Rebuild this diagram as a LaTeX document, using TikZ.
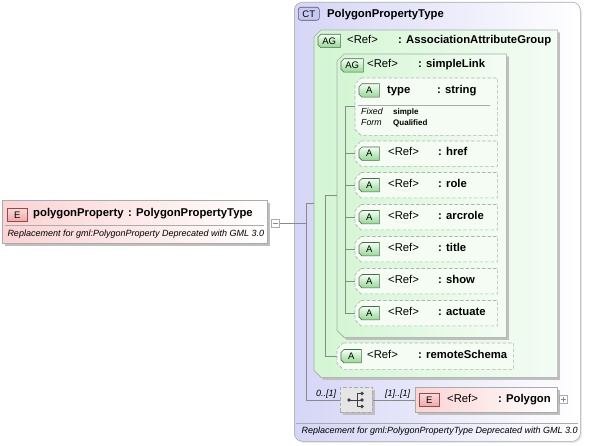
\documentclass[tikz,border=0pt]{standalone}
\usepackage{fontspec}
\setmainfont{Liberation Sans}
\usetikzlibrary{positioning,shadows}
\definecolor{linegray}{HTML}{8A8A8A}
\definecolor{boxgray}{HTML}{ABABAB}
\definecolor{ctblue}{HTML}{D5D5F6}
\definecolor{aggreen}{HTML}{D3F6D3}
\definecolor{agpale}{HTML}{F4FCF4}
\definecolor{elpink}{HTML}{FBD3D3}
\definecolor{badgegreen}{HTML}{94D894}
\definecolor{badgeedge}{HTML}{4E6A4E}
\definecolor{epink}{HTML}{F0A8A8}
\definecolor{eedge}{HTML}{9E4646}
\definecolor{ctbadge}{HTML}{C9C9F0}
\definecolor{ctedge}{HTML}{55557A}
\newcommand{\cutbox}[3]{\path[#1] ([xshift=#3]#2.north west) -- (#2.north east) -- (#2.south east) -- ([xshift=#3]#2.south west) -- ([yshift=#3]#2.south west) -- ([yshift=-#3]#2.north west) -- cycle;}
\newcommand{\greenbadge}[4]{%
	\node[badgebox, anchor=west, minimum width=#4] (#1) at #2 {};
	\cutbox{gbadgefill}{#1}{3pt}
	\node[badgetext] at (#1.center) {#3};}
\tikzset{
	boxline/.style={inner sep=0pt, anchor=north west},
	boxshadow/.style={drop shadow={shadow xshift=2.5pt, shadow yshift=-2.5pt, fill=black!25, opacity=1}},
	elbox/.style={boxline, draw=boxgray, line width=0.6pt, boxshadow, left color=elpink, right color=white},
	agfill/.style={draw=boxgray, line width=0.6pt, boxshadow, left color=aggreen, right color=agpale},
	attfill/.style={draw=boxgray!90, line width=0.6pt, dash pattern=on 3.5pt off 2pt, fill=agpale},
	badgebox/.style={inner sep=0pt, minimum height=13pt},
	badgetext/.style={inner sep=0pt, font=\fontsize{9.5}{9.5}\selectfont},
	gbadgefill/.style={draw=badgeedge, line width=0.6pt, top color=green!5!white, bottom color=badgegreen},
	ebadge/.style={badgebox, badgetext, draw=eedge, line width=0.6pt, top color=epink!40!white, bottom color=epink, minimum width=20pt},
	cbadge/.style={badgebox, badgetext, draw=ctedge, line width=0.6pt, rounded corners=2.5pt, fill=ctbadge, minimum width=21pt},
	reftxt/.style={anchor=base west, inner sep=0pt, font=\fontsize{11.3}{12}\selectfont},
	nametxt/.style={anchor=base west, inner sep=0pt, font=\fontsize{11.3}{12}\selectfont\bfseries},
	notetxt/.style={anchor=base west, inner sep=0pt, font=\fontsize{9}{10}\selectfont\itshape},
	link/.style={draw=linegray, line width=0.6pt},
}
\begin{document}
\begin{tikzpicture}[x=1pt, y=-1pt]
	\useasboundingbox (0,0) rectangle (589,446);

	\node[elbox, minimum width=265pt, minimum height=43pt] (polyprop) at (2,200) {};
	\draw[boxgray, line width=0.6pt] (5,225) -- (264,225);
	\node[ebadge, anchor=north west] (polypropE) at (7,208) {E};
	\node[nametxt] (polypropname) at (33,217) {polygonProperty};
	\node[nametxt] (polyproptype) at (128,217) {: PolygonPropertyType};
	\node[notetxt] (polypropnote) at (7.3,236.5) {Replacement for gml:PolygonProperty Deprecated with GML 3.0};
	\node[boxline, draw=boxgray, line width=0.6pt, fill=white, minimum size=8pt] (minus) at (271,219) {};
	\draw[linegray] ([xshift=-2.5pt]minus.center) -- ([xshift=2.5pt]minus.center);

	\node[boxline, draw=boxgray, line width=0.6pt, drop shadow={shadow xshift=1.5pt, shadow yshift=-1.5pt, fill=black!18}, rounded corners=8pt, left color=ctblue, right color=white, minimum width=286pt, minimum height=439pt] (ctbox) at (294,2) {};
	\node[cbadge, anchor=north west] (ctbadge) at (298,7) {CT};
	\node[nametxt] (ctname) at (327,18) {PolygonPropertyType};

	\node[boxline, minimum width=243pt, minimum height=347pt] (agassoc) at (314,30) {};
	\cutbox{agfill}{agassoc}{7pt}
	\greenbadge{agassocA}{(318,41)}{AG}{22pt}
	\node[reftxt] at (347,43.5) {<Ref>};
	\node[nametxt] at (398,43.5) {: AssociationAttributeGroup};

	\node[boxline, minimum width=169pt, minimum height=283pt] (agsimple) at (337,54) {};
	\cutbox{agfill}{agsimple}{7pt}
	\greenbadge{agsimpleA}{(341,65.5)}{AG}{22pt}
	\node[reftxt] at (367,67.5) {<Ref>};
	\node[nametxt] at (418,67.5) {: simpleLink};

	\node[boxline, minimum width=142pt, minimum height=57pt] (atttype) at (355,78) {};
	\cutbox{attfill}{atttype}{6pt}
	\greenbadge{atttypeA}{(359,90.5)}{A}{20pt}
	\node[nametxt] at (387,94) {type};
	\node[nametxt] at (437,94) {: string};
	\draw[boxgray, line width=0.6pt] (358,105) -- (490,105);
	\node[notetxt, font=\fontsize{8.8}{9}\selectfont\itshape] at (361,115) {Fixed};
	\node[nametxt, font=\fontsize{8}{9}\selectfont\bfseries] at (393,115) {simple};
	\node[notetxt, font=\fontsize{8.8}{9}\selectfont\itshape] at (361,125.3) {Form};
	\node[nametxt, font=\fontsize{8}{9}\selectfont\bfseries] at (393,125.3) {Qualified};

	\node[boxline, minimum width=142pt, minimum height=25pt] (href) at (355,141) {};
	\cutbox{attfill}{href}{6pt}
	\greenbadge{hrefA}{([xshift=4pt]href.west)}{A}{20pt}
	\node[reftxt] at (388,156) {<Ref>};
	\node[nametxt] at (438,156) {: href};

	\node[boxline, minimum width=142pt, minimum height=25pt] (role) at (355,172.5) {};
	\cutbox{attfill}{role}{6pt}
	\greenbadge{roleA}{([xshift=4pt]role.west)}{A}{20pt}
	\node[reftxt] at (388,187.5) {<Ref>};
	\node[nametxt] at (438,187.5) {: role};

	\node[boxline, minimum width=142pt, minimum height=25pt] (arcrole) at (355,204.5) {};
	\cutbox{attfill}{arcrole}{6pt}
	\greenbadge{arcroleA}{([xshift=4pt]arcrole.west)}{A}{20pt}
	\node[reftxt] at (388,219.5) {<Ref>};
	\node[nametxt] at (438,219.5) {: arcrole};

	\node[boxline, minimum width=142pt, minimum height=25pt] (title) at (355,236.5) {};
	\cutbox{attfill}{title}{6pt}
	\greenbadge{titleA}{([xshift=4pt]title.west)}{A}{20pt}
	\node[reftxt] at (388,251.5) {<Ref>};
	\node[nametxt] at (438,251.5) {: title};

	\node[boxline, minimum width=142pt, minimum height=25pt] (show) at (355,268.5) {};
	\cutbox{attfill}{show}{6pt}
	\greenbadge{showA}{([xshift=4pt]show.west)}{A}{20pt}
	\node[reftxt] at (388,283.5) {<Ref>};
	\node[nametxt] at (438,283.5) {: show};

	\node[boxline, minimum width=142pt, minimum height=25pt] (actuate) at (355,300.5) {};
	\cutbox{attfill}{actuate}{6pt}
	\greenbadge{actuateA}{([xshift=4pt]actuate.west)}{A}{20pt}
	\node[reftxt] at (388,315.5) {<Ref>};
	\node[nametxt] at (438,315.5) {: actuate};

	\node[boxline, minimum width=176pt, minimum height=26pt] (remote) at (337,343) {};
	\cutbox{attfill}{remote}{6pt}
	\greenbadge{remoteA}{([xshift=4pt]remote.west)}{A}{20pt}
	\node[reftxt] at (367,358.3) {<Ref>};
	\node[nametxt] at (418,358.3) {: remoteSchema};

	\node[boxline, draw=boxgray, line width=0.6pt, boxshadow, dash pattern=on 3.5pt off 2pt, fill=black!10, minimum width=32pt, minimum height=25pt] (seq) at (340,387) {};
	\fill[black!75] (349,400) circle (1.8pt) (362,393.5) circle (1.8pt) (362,400) circle (1.8pt) (362,406.5) circle (1.8pt);
	\draw[black!75, line width=0.8pt] (349,400) -- (362,400) (357,393.5) -- (357,406.5) (357,393.5) -- (362,393.5) (357,406.5) -- (362,406.5);
	\node[notetxt] at (316,396.5) {0..[1]};
	\node[notetxt] at (385,396.5) {[1]..[1]};

	\node[elbox, minimum width=142pt, minimum height=25pt] (polyel) at (415,387) {};
	\node[ebadge, anchor=west] (polyelE) at ([xshift=4pt]polyel.west) {E};
	\node[reftxt] at (447,402) {<Ref>};
	\node[nametxt] at (498,402) {: Polygon};
	\node[boxline, draw=boxgray, line width=0.6pt, fill=white, minimum size=8pt] (plus) at (559,395) {};
	\draw[linegray] ([xshift=-2.5pt]plus.center) -- ([xshift=2.5pt]plus.center) ([yshift=-2.5pt]plus.center) -- ([yshift=2.5pt]plus.center);

	\draw[boxgray, line width=0.6pt] (296,423) -- (578,423);
	\node[notetxt] (ctnote) at (301.5,433.5) {Replacement for gml:PolygonPropertyType Deprecated with GML 3.0};

	\coordinate (trunkct) at (306,0);
	\coordinate (trunkag) at (325,0);
	\coordinate (trunksl) at (345,0);
	\draw[link] (minus.east) -- (minus.east -| trunkct);
	\draw[link] (agassoc.west) -- (agassoc.west -| trunkct) -- (seq.west -| trunkct) -- (seq.west);
	\draw[link] (seq.east) -- (polyel.west);
	\draw[link] (agsimple.west) -- (agsimple.west -| trunkag) -- (remote.west -| trunkag) -- (remote.west);
	\draw[link] (atttype.west) -- (atttype.west -| trunksl) -- (actuate.west -| trunksl) -- (actuate.west);
	\foreach \n in {href,role,arcrole,title,show} \draw[link] (\n.west) -- (\n.west -| trunksl);
\end{tikzpicture}
\end{document}
